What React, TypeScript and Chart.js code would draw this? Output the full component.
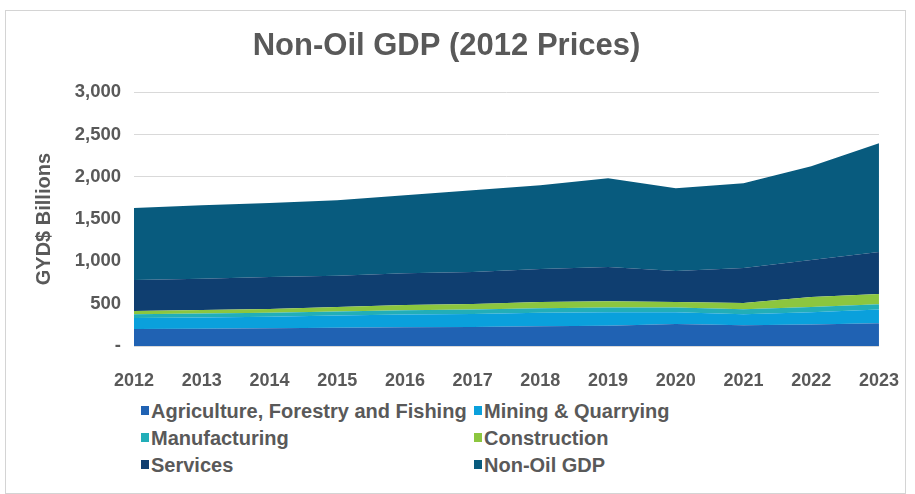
import React, { useEffect, useRef } from 'react';
import { Chart, registerables } from 'chart.js';

Chart.register(...registerables);

const years = ['2012', '2013', '2014', '2015', '2016', '2017', '2018', '2019', '2020', '2021', '2022', '2023'];

const agriculture = [200, 205, 210, 215, 222, 226, 232, 240, 260, 245, 255, 270];
const mining = [130, 133, 137, 145, 150, 152, 160, 160, 140, 130, 145, 160];
const manufacturing = [45, 45, 46, 47, 50, 52, 53, 54, 55, 58, 60, 64];
const construction = [40, 42, 44, 53, 62, 66, 75, 76, 65, 75, 120, 120];
const services = [365, 370, 378, 370, 376, 379, 389, 403, 366, 413, 436, 496];
const nonOilGdp = [850, 870, 875, 894, 923, 967, 992, 1051, 980, 1004, 1110, 1287];

const seriesNames = [
  'Agriculture, Forestry and Fishing',
  'Mining & Quarrying',
  'Manufacturing',
  'Construction',
  'Services',
  'Non-Oil GDP',
];
const seriesValues = [agriculture, mining, manufacturing, construction, services, nonOilGdp];
const seriesColors = ['#2062B3', '#0AA0DC', '#22AEB8', '#8CC63F', '#0F3E70', '#085B7E'];

const yTicks = [0, 500, 1000, 1500, 2000, 2500, 3000];

const FONT = '"Liberation Sans", Arial, sans-serif';
const TEXT = '#595959';

export default function App() {
  const ref = useRef<HTMLCanvasElement>(null);

  useEffect(() => {
    document.body.style.margin = '0';
    const chart = new Chart(ref.current as HTMLCanvasElement, {
      type: 'line',
      data: {
        labels: years,
        datasets: seriesNames.map((name, i) => ({
          label: name,
          data: seriesValues[i],
          backgroundColor: seriesColors[i],
          borderColor: seriesColors[i],
          borderWidth: 0,
          pointRadius: 0,
          tension: 0,
          fill: i === 0 ? 'origin' : '-1',
        })),
      },
      options: {
        responsive: false,
        animation: false,
        layout: { padding: { left: 0, right: 27, top: 0, bottom: 0 } },
        plugins: {
          legend: { display: false },
          tooltip: { enabled: false },
          title: {
            display: true,
            text: 'Non-Oil GDP (2012 Prices)',
            color: TEXT,
            font: { family: FONT, size: 31, weight: 'bold' },
            padding: { top: 18, bottom: 27 },
          },
        },
        scales: {
          x: {
            type: 'category',
            offset: false,
            grid: { display: false },
            border: { display: true, color: '#d9d9d9' },
            ticks: {
              color: TEXT,
              font: { family: FONT, size: 18, weight: 'bold' },
              padding: 16,
              maxRotation: 0,
              autoSkip: false,
            },
            afterFit: (scale: any) => {
              scale.height = 44;
            },
          },
          y: {
            stacked: true,
            min: 0,
            max: 3000,
            afterBuildTicks: (scale: any) => {
              scale.ticks = yTicks.map((v) => ({ value: v }));
            },
            grid: { color: '#d9d9d9', drawTicks: false },
            border: { display: false },
            ticks: {
              color: TEXT,
              font: { family: FONT, size: 18.5, weight: 'bold' },
              padding: 13,
              callback: (v: any) => (Number(v) === 0 ? '-' : Number(v).toLocaleString('en-US')),
            },
            title: {
              display: true,
              text: 'GYD$ Billions',
              color: TEXT,
              font: { family: FONT, size: 20, weight: 'bold' },
              padding: { top: 27, bottom: 0 },
            },
            afterFit: (scale: any) => {
              scale.width = 129;
            },
          },
        },
      } as any,
    });
    return () => chart.destroy();
  }, []);

  return (
    <div style={{ position: 'relative', width: 915, height: 494, background: '#fff', overflow: 'hidden', fontFamily: FONT }}>
      <div
        style={{
          position: 'absolute',
          left: 5,
          top: 10,
          width: 901,
          height: 484,
          border: '1px solid #d4d4d4',
          boxSizing: 'border-box',
        }}
      />
      <canvas
        ref={ref}
        width={910}
        height={380}
        style={{ position: 'absolute', left: 5, top: 10, width: 910, height: 380 }}
      />
      {seriesNames.map((name, i) => {
        const col = i % 2;
        const row = Math.floor(i / 2);
        const cy = 411 + row * 27;
        const sx = col === 0 ? 141 : 474;
        return (
          <div key={name}>
            <div
              style={{
                position: 'absolute',
                left: sx,
                top: cy - 5,
                width: 8,
                height: 9,
                background: seriesColors[i],
              }}
            />
            <div
              style={{
                position: 'absolute',
                left: sx + 10,
                top: cy - 12,
                height: 24,
                lineHeight: '24px',
                fontSize: 20,
                fontWeight: 'bold',
                color: TEXT,
                whiteSpace: 'nowrap',
              }}
            >
              {name}
            </div>
          </div>
        );
      })}
    </div>
  );
}
